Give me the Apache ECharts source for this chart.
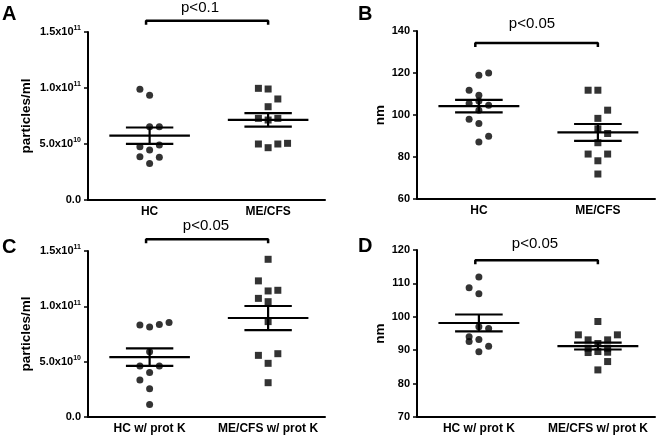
<!DOCTYPE html>
<html>
<head>
<meta charset="utf-8">
<script src="https://cdn.jsdelivr.net/npm/echarts@6/dist/echarts.min.js"></script>
<style>
html, body { margin: 0; padding: 0; background: #fff; }
#main { width: 658px; height: 438px; }
</style>
</head>
<body>
<div id="main"></div>
<script>
// group names
var namesAB = ['HC', 'ME/CFS'];
var namesCD = ['HC w/ prot K', 'ME/CFS w/ prot K'];

// A: particles/ml
var aHC = [9.88e10, 9.35e10, 6.55e10, 6.55e10, 4.76e10, 4.46e10, 4.91e10, 3.87e10, 3.81e10, 3.27e10];
var aHCcol = [-1, 0, 0, 1, -1, 0, 1, -1, 1, 0];
var aME = [9.97e10, 9.91e10, 9.02e10, 8.33e10, 7.29e10, 7.14e10, 7.29e10, 5.0e10, 4.67e10, 5.0e10, 5.06e10];
var aMEcol = [-1, 0, 1, 0, -1, 0, 1, -1, 0, 1, 2];

// B: nm
var bHC = [118.9, 120.0, 111.8, 109.4, 105.5, 106.7, 104.6, 102.3, 98.0, 96.0, 89.9, 87.2];
var bHCcol = [0, 1, -1, 0, -1, 0, 1, 0, -1, 0, 1, 0];
var bME = [111.8, 111.8, 102.3, 98.4, 93.4, 91.2, 86.8, 81.4, 81.4, 78.2, 71.9];
var bMEcol = [-1, 0, 1, 0, 0, 1, 0, -1, 1, 0, 0];

// C: particles/ml, prot K
var cHC = [8.32e10, 8.14e10, 8.35e10, 8.53e10, 5.90e10, 4.61e10, 4.61e10, 4.01e10, 3.35e10, 2.56e10, 1.14e10];
var cHCcol = [-1, 0, 1, 2, 0, -1, 1, 0, -1, 0, 0];
var cME = [14.25e10, 12.30e10, 11.39e10, 11.45e10, 10.72e10, 10.42e10, 8.62e10, 5.57e10, 5.72e10, 4.85e10, 3.10e10];
var cMEcol = [0, -1, 0, 1, -1, 0, 0, -1, 1, 0, 0];

// D: nm, prot K
var dHC = [111.9, 108.7, 106.9, 97.0, 96.5, 94.0, 92.6, 93.2, 91.2, 89.5];
var dHCcol = [0, -1, 0, 0, 1, -1, -1, 0, 1, 0];
var dME = [98.6, 94.6, 94.6, 93.1, 93.1, 92.0, 90.6, 90.6, 89.3, 89.6, 89.4, 86.6, 84.1];
var dMEcol = [0, -2, 2, -1, 1, 0, -1, 1, -1, 0, 1, 1, 0];

var pText = ['p<0.1', 'p<0.05', 'p<0.05', 'p<0.05'];
var letters = ['A', 'B', 'C', 'D'];

var FONT = 'Liberation Sans, Arial, sans-serif';
var COLW = 0.082;

function mean(a) {
	var s = 0;
	for (var i = 0; i < a.length; i++) s += a[i];
	return s / a.length;
}
function sem(a) {
	var m = mean(a), s = 0;
	for (var i = 0; i < a.length; i++) s += (a[i] - m) * (a[i] - m);
	return Math.sqrt(s / (a.length - 1)) / Math.sqrt(a.length);
}
function pts(vals, cols, g) {
	return vals.map(function(v, i) { return [g + cols[i] * COLW, v]; });
}
function sci(v) {
	if (v === 0) return '{b|0.0}';
	var e = Math.floor(Math.log10(v) + 1e-9);
	var m = v / Math.pow(10, e);
	return '{b|' + m.toFixed(1) + 'x10}{s|' + e + '}';
}

var panels = [
	{ hc: aHC, hcCol: aHCcol, me: aME, meCol: aMEcol, names: namesAB, grid: { left: 88, top: 32, width: 237, height: 168 },
	  y: { min: 0, max: 1.5e11, interval: 5e10, name: 'particles/ml', gap: 55, sci: true }, br: [1.6e11, 1.565e11] },
	{ hc: bHC, hcCol: bHCcol, me: bME, meCol: bMEcol, names: namesAB, grid: { left: 417, top: 31, width: 238, height: 168 },
	  y: { min: 60, max: 140, interval: 20, name: 'nm', gap: 30 }, br: [134.3, 132.4] },
	{ hc: cHC, hcCol: cHCcol, me: cME, meCol: cMEcol, names: namesCD, grid: { left: 88, top: 251, width: 237, height: 166 },
	  y: { min: 0, max: 1.5e11, interval: 5e10, name: 'particles/ml', gap: 55, sci: true }, br: [1.606e11, 1.57e11] },
	{ hc: dHC, hcCol: dHCcol, me: dME, meCol: dMEcol, names: namesCD, grid: { left: 417, top: 250, width: 238, height: 167 },
	  y: { min: 70, max: 120, interval: 10, name: 'nm', gap: 30 }, br: [116.9, 115.7] }
];
var textPos = [[200, 8, 2, 14], [532, 24, 358, 14], [206, 226, 2, 247], [535, 244, 358, 246]];

var grids = [], xAxes = [], yAxes = [], series = [], graphics = [];

panels.forEach(function(p, k) {
	grids.push(p.grid);
	var nm = p.names;
	xAxes.push({
		gridIndex: k, type: 'value', min: 0.48, max: 2.48,
		axisLine: { show: true, lineStyle: { color: '#000', width: 2 } },
		axisTick: { show: false },
		splitLine: { show: false },
		axisLabel: {
			customValues: [1, 2], margin: 6,
			color: '#000', fontFamily: FONT, fontWeight: 'bold', fontSize: 12,
			formatter: function(v) { return nm[Math.round(v) - 1]; }
		}
	});
	yAxes.push({
		gridIndex: k, type: 'value', min: p.y.min, max: p.y.max, interval: p.y.interval,
		name: p.y.name, nameLocation: 'middle', nameGap: p.y.gap,
		nameTextStyle: { color: '#000', fontFamily: FONT, fontWeight: 'bold', fontSize: 13.5 },
		axisLine: { show: true, lineStyle: { color: '#000', width: 2 } },
		axisTick: { show: true, length: 4, lineStyle: { color: '#000', width: 1.5 } },
		splitLine: { show: false },
		axisLabel: {
			margin: 7, color: '#000', fontFamily: FONT, fontWeight: 'bold', fontSize: 11,
			formatter: p.y.sci ? sci : function(v) { return '{b|' + v + '}'; },
			rich: {
				b: { fontFamily: FONT, fontWeight: 'bold', fontSize: 11, color: '#000', lineHeight: 14 },
				s: { fontFamily: FONT, fontWeight: 'bold', fontSize: 7, color: '#000', verticalAlign: 'top', lineHeight: 8 }
			}
		}
	});
	series.push({
		type: 'scatter', xAxisIndex: k, yAxisIndex: k, symbol: 'circle', symbolSize: 7,
		itemStyle: { color: '#000' }, data: pts(p.hc, p.hcCol, 1)
	});
	series.push({
		type: 'scatter', xAxisIndex: k, yAxisIndex: k, symbol: 'rect', symbolSize: 7,
		itemStyle: { color: '#000' }, data: pts(p.me, p.meCol, 2)
	});
	// mean +/- SEM
	series.push({
		type: 'custom', xAxisIndex: k, yAxisIndex: k,
		data: [[1, mean(p.hc), sem(p.hc)], [2, mean(p.me), sem(p.me)]],
		renderItem: function(params, api) {
			var g = api.value(0), m = api.value(1), s = api.value(2);
			var st = { stroke: '#000', lineWidth: 2.2 };
			function seg(x1, y1, x2, y2) {
				var a = api.coord([x1, y1]), b = api.coord([x2, y2]);
				return { type: 'line', shape: { x1: a[0], y1: a[1], x2: b[0], y2: b[1] }, style: st };
			}
			return { type: 'group', children: [
				seg(g - 0.34, m, g + 0.34, m),
				seg(g - 0.2, m + s, g + 0.2, m + s),
				seg(g - 0.2, m - s, g + 0.2, m - s),
				seg(g, m - s, g, m + s)
			] };
		}
	});
	// significance bracket
	series.push({
		type: 'line', xAxisIndex: k, yAxisIndex: k, clip: false, symbol: 'none', silent: true,
		lineStyle: { color: '#000', width: 2.5 },
		data: [[0.97, p.br[1]], [0.97, p.br[0]], [2.0, p.br[0]], [2.0, p.br[1]]]
	});
	var tp = textPos[k];
	graphics.push({
		type: 'text', x: tp[0], y: tp[1],
		style: { text: pText[k], fill: '#000', font: '15px ' + FONT, textAlign: 'center', textVerticalAlign: 'middle', align: 'center', verticalAlign: 'middle' }
	});
	graphics.push({
		type: 'text', x: tp[2], y: tp[3],
		style: { text: letters[k], fill: '#000', font: 'bold 20px ' + FONT, textAlign: 'left', textVerticalAlign: 'middle', align: 'left', verticalAlign: 'middle' }
	});
});

var myChart = echarts.init(document.getElementById('main'));
myChart.setOption({
	animation: false,
	backgroundColor: '#fff',
	grid: grids,
	xAxis: xAxes,
	yAxis: yAxes,
	series: series,
	graphic: graphics
});
</script>
</body>
</html>
